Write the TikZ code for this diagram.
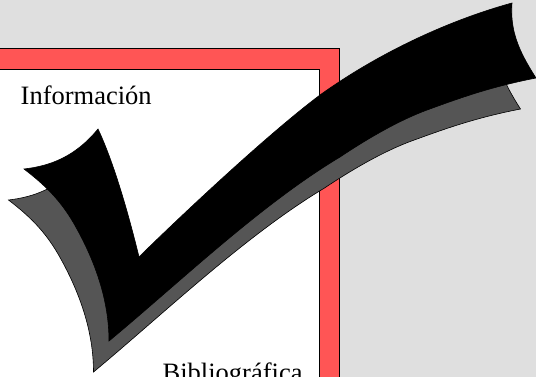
\documentclass[tikz,border=0pt]{standalone}
\usepackage{fontspec}
\setmainfont{Liberation Serif}
\definecolor{bgc}{HTML}{DFDFDF}
\definecolor{redc}{HTML}{FF5555}
\definecolor{grayc}{HTML}{555555}
\tikzset{
  framebox/.style={draw=black,line width=0.7pt},
  checkmark/.style={draw=black,line width=0.6pt,line join=miter},
  label/.style={inner sep=0pt,anchor=base west,font=\fontsize{26.5}{30}\selectfont}
}
\newcommand{\checkshape}{(24,169) .. controls (50,166) and (75,157) .. (98,129)
 .. controls (115,165) and (130,220) .. (139,257)
 .. controls (160,236) and (260,140) .. (320,95)
 .. controls (380,52) and (450,20) .. (512,3)
 .. controls (510,30) and (518,50) .. (536,78)
 .. controls (490,87) and (460,98) .. (427,110)
 .. controls (400,120) and (370,137) .. (340,157)
 .. controls (260,205) and (180,282) .. (109,341)
 .. controls (109,300) and (95,260) .. (73,222)
 .. controls (60,200) and (45,185) .. (24,169) -- cycle}
\begin{document}
\begin{tikzpicture}[x=1pt,y=-1pt]
\clip (0,0) rectangle (536,377);
\fill[bgc] (0,0) rectangle (536,377);
\fill[redc,framebox] (-10,48) rectangle (339,400);
\fill[white,framebox] (-10,69) rectangle (319,400);
\node[label] (info) at (20.5,105) {Información};
\node[label] (biblio) at (162.5,381) {Bibliográfica};
\begin{scope}[shift={(-15.5,31)}]
\fill[grayc,checkmark] \checkshape;
\end{scope}
\fill[black,checkmark] \checkshape;
\end{tikzpicture}
\end{document}
